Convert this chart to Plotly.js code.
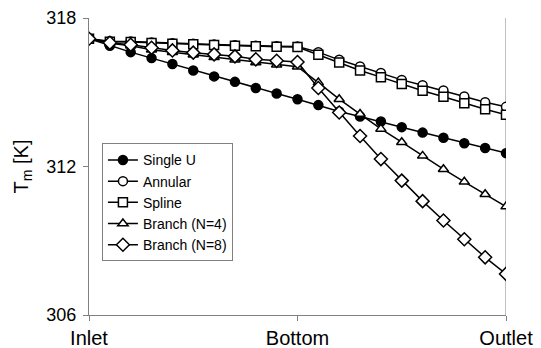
<!DOCTYPE html>
<html>
<head>
<meta charset="utf-8">
<script src="https://cdn.plot.ly/plotly-3.0.1.min.js"></script>
<style>html,body{margin:0;padding:0;background:#fff;}#chart{width:541px;height:348px;}</style>
</head>
<body>
<div id="chart"></div>
<script>
// Position index along the pipe: 0 = Inlet, 10 = Bottom, 20 = Outlet
var position = [0,1,2,3,4,5,6,7,8,9,10,11,12,13,14,15,16,17,18,19,20];
var tickPositions = [0, 10, 20];
var tickLabels = ['Inlet', 'Bottom', 'Outlet'];
var yTicks = [306, 312, 318];

var singleU  = [317.16,316.88,316.62,316.38,316.14,315.88,315.64,315.42,315.17,314.95,314.72,
                314.48,314.22,314.02,313.82,313.59,313.37,313.16,312.94,312.75,312.54];
var annular  = [317.16,317.06,317.05,317.01,316.98,316.96,316.93,316.90,316.88,316.86,316.85,
                316.62,316.31,316.04,315.78,315.50,315.28,315.07,314.83,314.60,314.41];
var spline   = [317.16,317.04,317.03,316.99,316.96,316.94,316.91,316.88,316.86,316.84,316.83,
                316.52,316.20,315.88,315.61,315.33,315.06,314.82,314.56,314.31,314.09];
var branch4  = [317.16,316.98,316.88,316.72,316.62,316.52,316.41,316.31,316.20,316.11,316.03,
                315.39,314.72,314.12,313.52,312.98,312.43,311.89,311.38,310.88,310.38];
var branch8  = [317.16,317.00,316.92,316.80,316.69,316.60,316.53,316.45,316.33,316.27,316.22,
                315.17,314.18,313.23,312.30,311.43,310.60,309.82,309.06,308.33,307.66];

var seriesNames = ['Single U', 'Annular', 'Spline', 'Branch (N=4)', 'Branch (N=8)'];
var seriesValues = [singleU, annular, spline, branch4, branch8];
var symbols = ['circle', 'circle', 'square', 'triangle-up', 'diamond'];
var fills = ['#000', '#fff', '#fff', '#fff', '#fff'];
var sizes = [9, 9, 9, 9, 10];

var traces = seriesValues.map(function (vals, k) {
  return {
    x: position, y: vals, name: seriesNames[k],
    type: 'scatter', mode: 'lines+markers',
    line: {color: '#000', width: 1.5},
    marker: {symbol: symbols[k], size: sizes[k], color: fills[k],
             line: {color: '#000', width: 1.5}}
  };
});

var layout = {
  width: 541, height: 348,
  margin: {l: 89, r: 35, t: 18, b: 33},
  paper_bgcolor: '#fff', plot_bgcolor: '#fff',
  font: {family: 'Liberation Sans, Arial, sans-serif', color: '#000'},
  showlegend: true,
  legend: {x: 0.031, y: 0.578, xanchor: 'left', yanchor: 'top',
           bgcolor: '#fff', bordercolor: '#808080', borderwidth: 1,
           font: {size: 14, color: '#000'}, tracegroupgap: 0, itemwidth: 30},
  xaxis: {range: [0, 20], tickvals: tickPositions, ticktext: tickLabels,
          showgrid: false, zeroline: false, showline: true, linecolor: '#808080', linewidth: 1,
          ticks: 'outside', ticklen: 5, tickcolor: '#808080',
          tickfont: {size: 20, color: '#000'}, fixedrange: true},
  yaxis: {range: [306, 318], tickvals: yTicks, ticktext: yTicks.map(String),
          showgrid: false, zeroline: false, showline: true, linecolor: '#808080', linewidth: 1,
          ticks: 'outside', ticklen: 5, tickcolor: '#808080', ticklabelstandoff: 3,
          tickfont: {size: 18, color: '#000'},
          title: {text: 'T<sub>m</sub> [K]', font: {size: 20, color: '#000'}, standoff: 12},
          automargin: false, fixedrange: true},
  shapes: [{type: 'line', xref: 'x', yref: 'paper', x0: 20, x1: 20, y0: 0, y1: 1,
            line: {color: '#808080', width: 1}, layer: 'below'}]
};

Plotly.newPlot('chart', traces, layout, {displayModeBar: false, staticPlot: true});
</script>
</body>
</html>
